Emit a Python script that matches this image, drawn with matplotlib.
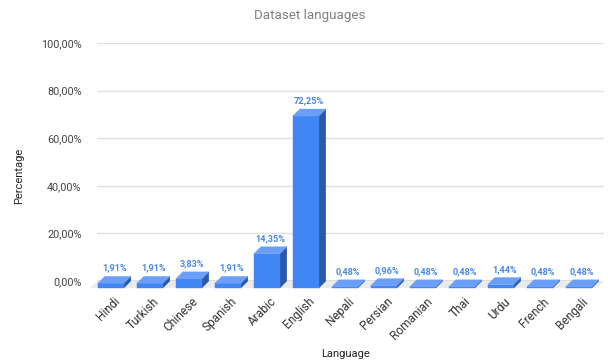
import matplotlib.pyplot as plt
from matplotlib.patches import Polygon

plt.rcParams['font.family'] = ['Roboto', 'DejaVu Sans']

languages = ["Hindi", "Turkish", "Chinese", "Spanish", "Arabic", "English", "Nepali",
             "Persian", "Romanian", "Thai", "Urdu", "French", "Bengali"]
share = [1.91, 1.91, 3.83, 1.91, 14.35, 72.25, 0.48, 0.96, 0.48, 0.48, 1.44, 0.48, 0.48]
y_ticks = [0, 20, 40, 60, 80, 100]

W, H = 608, 362
fig = plt.figure(figsize=(W / 100, H / 100), dpi=100)
ax = fig.add_axes([97 / W, (H - 281) / H, (604 - 97) / W, (281 - 43) / H])
ax.set_xlim(0, len(languages))
ax.set_ylim(0, 100)

# 3d depth offsets, in data units (about 7 px each way)
px_x = len(languages) / (604 - 97)
px_y = 100 / (281 - 43)
dx = 7 * px_x
dy = 7 * px_y
bw = 26 * px_x

front_c = "#4285f4"
top_c = "#6a9ef7"
side_c = "#2b58a8"

# floor
ax.add_patch(Polygon([(0, 0), (len(languages), 0), (len(languages) - dx, -dy), (-dx, -dy)],
                     closed=True, facecolor="#ebebeb", edgecolor="none", clip_on=False, zorder=1))
for t in y_ticks[1:]:
    ax.plot([0, len(languages)], [t, t], color="#e0e0e0", lw=1, zorder=0)
ax.plot([0, len(languages) - dx], [0, 0], color="#555555", lw=1, zorder=2)


def fmt(v):
    return f"{v:.2f}".replace(".", ",") + "%"


for i, v in enumerate(share):
    x0 = i + 0.02
    front = [(x0, -dy), (x0 + bw, -dy), (x0 + bw, v - dy), (x0, v - dy)]
    top = [(x0, v - dy), (x0 + bw, v - dy), (x0 + bw + dx, v), (x0 + dx, v)]
    side = [(x0 + bw, -dy), (x0 + bw + dx, 0), (x0 + bw + dx, v), (x0 + bw, v - dy)]
    for pts, c in ((side, side_c), (front, front_c), (top, top_c)):
        ax.add_patch(Polygon(pts, closed=True, facecolor=c, edgecolor=c, lw=0.3,
                             clip_on=False, zorder=3))
    ax.text(x0 + (bw + dx) / 2, v + 1.6, fmt(v), ha="center", va="bottom",
            fontsize=6.6, fontweight="bold", color="#4a86e8", zorder=4)

ax.set_xticks([i + 0.42 for i in range(len(languages))])
ax.set_xticklabels(languages, rotation=45, ha="right", va="top", rotation_mode="anchor",
                   fontsize=8.6, color="#333333")
ax.set_yticks(y_ticks)
ax.set_yticklabels([f"{t},00%" for t in y_ticks], fontsize=7.8, color="#444444")
ax.tick_params(axis="x", length=0, pad=10)
ax.tick_params(axis="y", length=0, pad=11)
for s in ax.spines.values():
    s.set_visible(False)

fig.text(310 / W, 1 - 15 / H, "Dataset languages", ha="center", va="center",
         fontsize=9.6, color="#808080")
fig.text(345 / W, 1 - 354 / H, "Language", ha="center", va="center",
         fontsize=8, color="#222222")
fig.text(19 / W, 1 - 176 / H, "Percentage", ha="center", va="center", rotation=90,
         fontsize=8, color="#222222")

fig.savefig("out.png", dpi=100)
